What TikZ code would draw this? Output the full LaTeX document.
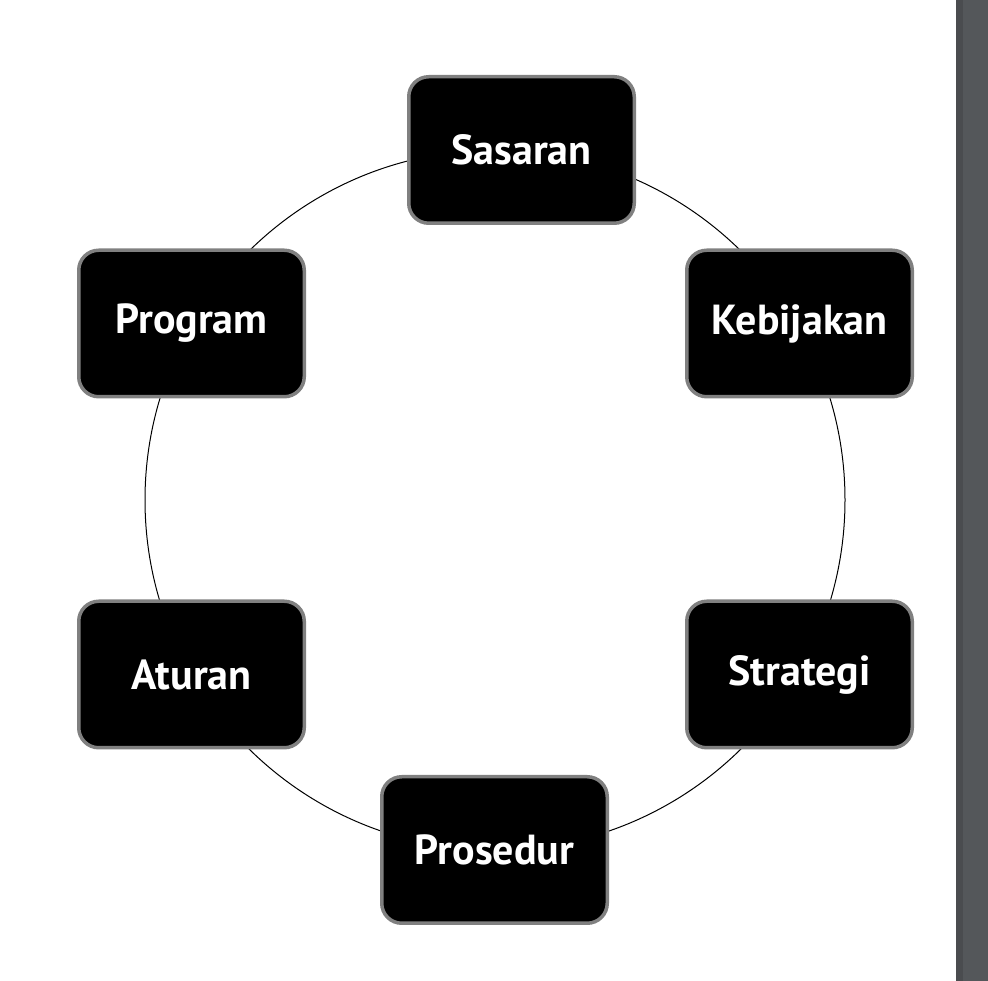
\documentclass[tikz,border=0pt]{standalone}
\usepackage{fontspec}
\setmainfont{PT Sans}
\definecolor{barmain}{RGB}{84,87,90}
\definecolor{baredge}{RGB}{74,76,79}
\definecolor{boxedge}{RGB}{128,128,128}
\tikzset{
  stagebox/.style={rectangle, rounded corners=20pt, fill=black, draw=boxedge,
    line width=3.5pt, minimum width=225.5pt, minimum height=146.5pt,
    text=white, font=\fontsize{42}{48}\selectfont\bfseries, inner sep=0pt},
  ringline/.style={draw=black, line width=1pt}
}
\begin{document}
\begin{tikzpicture}[x=1pt,y=1pt]
\useasboundingbox (0,0) rectangle (988,981);
\fill[white] (0,0) rectangle (988,981);
\fill[barmain] (956,0) rectangle (988,981);
\fill[baredge] (956,0) rectangle (963,981);
\node[circle, ringline, minimum size=700pt, inner sep=0pt] (ring) at (495,481) {};
\node[stagebox] (sasaran) at (521.5,831) {Sasaran};
\node[stagebox] (kebijakan) at (799.5,657.5) {Kebijakan};
\node[stagebox] (program) at (191.5,657.5) {Program};
\node[stagebox] (aturan) at (191.5,306.5) {Aturan};
\node[stagebox] (strategi) at (799.5,306.5) {Strategi};
\node[stagebox] (prosedur) at (494.5,131) {Prosedur};
\end{tikzpicture}
\end{document}
